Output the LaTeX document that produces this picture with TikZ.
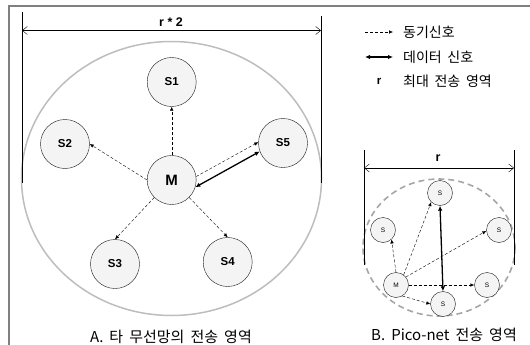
\documentclass[tikz,border=0pt]{standalone}
\usepackage{fontspec}
\setmainfont{Noto Sans CJK KR}[WordSpace=1.8]
\newfontfamily\latf{Liberation Sans}
\usetikzlibrary{arrows.meta, positioning}
\definecolor{colorMarco}{HTML}{808080}
\definecolor{colorArea}{HTML}{BDBDBD}
\definecolor{colorPico}{HTML}{A6A6A6}
\definecolor{fillNodo}{HTML}{F4F4F4}

\begin{document}
\begin{tikzpicture}[x=1pt, y=-1pt,
        n/.style={circle, draw=black!90, fill=fillNodo, minimum size=49pt, inner sep=0pt,
            font=\latf\bfseries\fontsize{11.5}{13}\selectfont},
        sn/.style={circle, draw=black!90, fill=fillNodo, minimum size=25pt, inner sep=0pt,
            font=\latf\fontsize{6.5}{7}\selectfont},
        sync/.style={-{Latex[length=4pt, width=3.5pt]}, dash pattern=on 3pt off 2pt, thin},
        dat/.style={{Latex[length=5pt, width=4.5pt]}-{Latex[length=5pt, width=4.5pt]}, line width=1.3pt},
        dim/.style={{Straight Barb[length=5pt, width=8pt]}-{Straight Barb[length=5pt, width=8pt]}, thin},
        txt/.style={inner sep=0pt, font=\fontsize{14}{16}\selectfont},
        captxt/.style={inner sep=0pt, font=\fontsize{15}{17}\selectfont},
        lbl/.style={inner sep=0pt, font=\latf\bfseries\fontsize{12.5}{14}\selectfont}
    ]
        \useasboundingbox (0,0) rectangle (530,345);
        \draw[colorMarco, line width=2pt] (9,345) -- (9,6) -- (530,6);

        % A. area
        \draw[colorArea, line width=1.5pt] (171.5,178.5) ellipse [x radius=150, y radius=137];
        \coordinate (a1) at (22,12); \coordinate (a2) at (22,183);
        \coordinate (a3) at (321,16); \coordinate (a4) at (321,183);
        \draw[thick] (a1) -- (a2); \draw[thick] (a3) -- (a4);
        \draw[dim] (22,30.5) -- (321,30.5);
        \node[lbl] (r2) at (171,22) {r * 2};

        \node[n] (s1) at (171.7,82) {S1};
        \node[n] (s2) at (65,144) {S2};
        \node[n] (s5) at (283,143) {S5};
        \node[n, font=\latf\bfseries\fontsize{15}{17}\selectfont] (m) at (171.7,180) {M};
        \node[n] (s3) at (115,264) {S3};
        \node[n] (s4) at (227.7,262) {S4};
        \draw[sync] (m.north) -- (s1.south);
        \draw[sync] (m.west) -- (s2.east);
        \draw[sync] (m.south west) -- (s3.north);
        \draw[sync] (m.south east) -- (s4.north);
        \draw[sync] (m.8) -- (s5.178);
        \draw[dat] (m.-17) -- (s5.200);
        \node[captxt] (capA) at (171,337) {A. 타 무선망의 전송 영역};

        % legend
        \coordinate (l1) at (365,32); \coordinate (l2) at (393,32);
        \coordinate (l3) at (365,57); \coordinate (l4) at (393,57);
        \draw[sync] (l1) -- (l2);
        \draw[dat] (l3) -- (l4);
        \node[txt, anchor=west] (t1) at (403,32) {동기신호};
        \node[txt, anchor=west] (t2) at (403,57) {데이터 신호};
        \node[lbl, font=\latf\bfseries\fontsize{11.5}{13}\selectfont] (rl) at (379,81) {r};
        \node[txt, anchor=west] (t3) at (403,81) {최대 전송 영역};

        % B. pico-net
        \draw[colorPico, line width=1.6pt, dash pattern=on 6pt off 4pt] (439,247.5) ellipse [x radius=76, y radius=68.5];
        \coordinate (b1) at (364,150); \coordinate (b2) at (364,265);
        \coordinate (b3) at (514,150); \coordinate (b4) at (514,265);
        \draw[thick] (b1) -- (b2); \draw[thick] (b3) -- (b4);
        \draw[dim] (364,168) -- (514,168);
        \node[lbl] (r1) at (438,158) {r};

        \node[sn] (pa) at (440,193) {S};
        \node[sn] (pi) at (383,230) {S};
        \node[sn] (pd) at (499,230) {S};
        \node[sn] (pm) at (396,285) {M};
        \node[sn] (pr) at (487,285) {S};
        \node[sn] (pb) at (443,304) {S};
        \draw[sync] (pm.north) -- (pi.-48);
        \draw[sync] (pm.53) -- (pa.226);
        \draw[sync] (pm.39) -- (pd.184);
        \draw[sync] (pm.east) -- (pr.west);
        \draw[sync] (pm.-60) -- (pb.west);
        \draw[dat] (pa.south) -- (pb.north);
        \node[captxt] (capB) at (444,335) {B. Pico-net 전송 영역};
    \end{tikzpicture}
\end{document}
